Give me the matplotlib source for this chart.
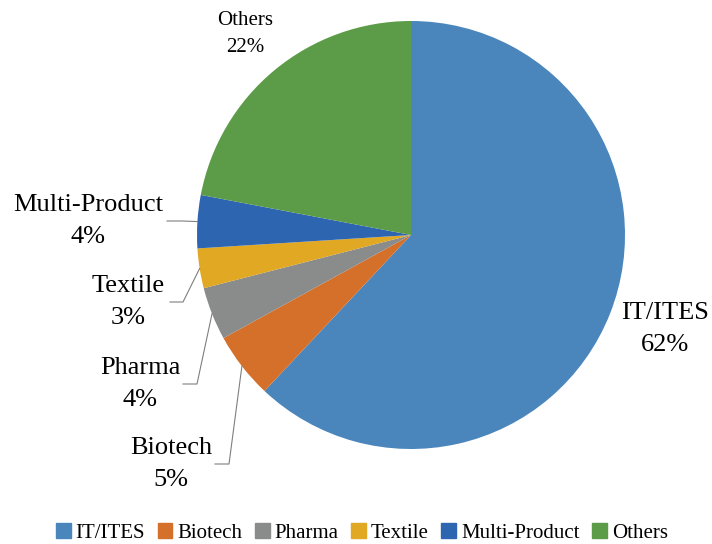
import numpy as np
import matplotlib.pyplot as plt

plt.rcParams['font.family'] = ['Liberation Serif', 'DejaVu Serif']

sectors = ['IT/ITES', 'Biotech', 'Pharma', 'Textile', 'Multi-Product', 'Others']
shares = [62, 5, 4, 3, 4, 22]
colors = ['#4A86BC', '#D5702B', '#8A8C8C', '#E0A823', '#2E65B1', '#5C9B47']

# label block centres in figure pixels (layout only)
label_px = {
    'IT/ITES': (665, 329),
    'Biotech': (171, 464),
    'Pharma': (140, 384),
    'Textile': (128, 302),
    'Multi-Product': (88, 221),
    'Others': (245, 34),
}
label_size = {'Others': 15}
# leader lines: (text right edge x, elbow x) in figure pixels
leader_px = {
    'Biotech': (215, 229),
    'Pharma': (183, 197),
    'Textile': (170, 183),
    'Multi-Product': (167, 182),
}

W, H = 712, 544
CX, CY, R = 411, 235, 214

fig = plt.figure(figsize=(W / 100, H / 100), dpi=100)
ax = fig.add_axes([(CX - R) / W, 1 - (CY + R) / H, 2 * R / W, 2 * R / H])

wedges, _ = ax.pie(shares, colors=colors, startangle=90, counterclock=False,
                   radius=1, wedgeprops=dict(linewidth=0))
ax.set_xlim(-1, 1)
ax.set_ylim(-1, 1)


def to_data(px, py):
    return (px - CX) / R, (CY - py) / R


for w, name, val in zip(wedges, sectors, shares):
    tx, ty = to_data(*label_px[name])
    ax.text(tx, ty, f'{name}\n{val}%', ha='center', va='center',
            multialignment='center', fontsize=label_size.get(name, 19),
            linespacing=1.55, clip_on=False)
    if name in leader_px:
        mid = np.deg2rad((w.theta1 + w.theta2) / 2)
        ex, ey = np.cos(mid), np.sin(mid)
        x0, _ = to_data(leader_px[name][0], 0)
        x1, _ = to_data(leader_px[name][1], 0)
        ax.plot([x0, x1, ex], [ty, ty, ey], color='#7F7F7F', lw=0.8,
                clip_on=False)

handles = [plt.Rectangle((0, 0), 1, 1, color=c) for c in colors]
fig.legend(handles, sectors, loc='center',
           bbox_to_anchor=(0.5 + 6 / W, 1 - 533 / H),
           ncol=6, frameon=False, fontsize=15, handlelength=0.7,
           handleheight=0.7, handletextpad=0.25, columnspacing=0.6)

fig.savefig('out.png', dpi=100)
